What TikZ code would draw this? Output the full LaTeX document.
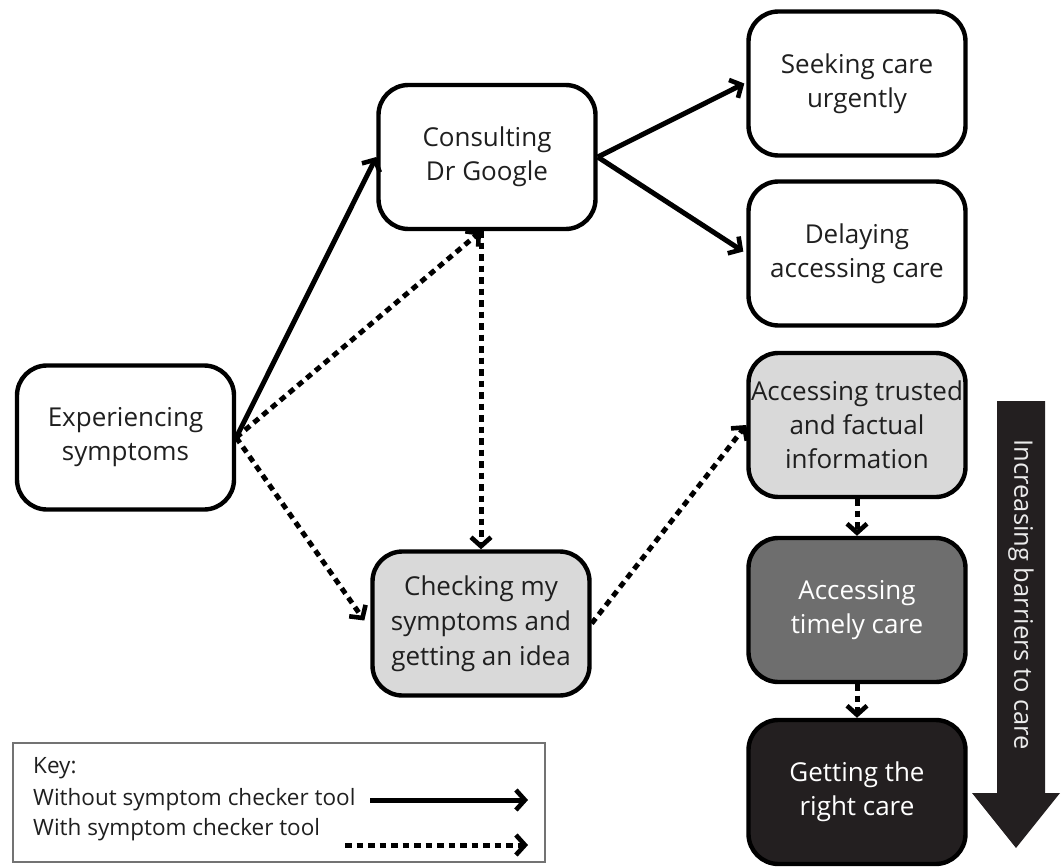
\documentclass[tikz,border=0pt]{standalone}
\usepackage{fontspec}
\setmainfont{Open Sans}
\usetikzlibrary{arrows.meta,calc}
\definecolor{lightbox}{HTML}{D9D9D9}
\definecolor{midbox}{HTML}{6E6E6E}
\definecolor{darkbox}{HTML}{231F20}
\tikzset{
  box/.style={draw=black, line width=4.4pt, rounded corners=30pt, minimum width=217pt, minimum height=144pt, align=center, inner sep=0pt, font=\fontsize{26}{34}\selectfont, text=black!88},
  conn/.style={line width=5pt, -{Straight Barb[length=9pt,width=20pt,line width=4.6pt]}},
  dotconn/.style={conn, dash pattern=on 6.5pt off 5pt},
  keytext/.style={anchor=west, inner sep=0pt, font=\fontsize{22.5}{26}\selectfont, text=black!88}
}
\begin{document}
\begin{tikzpicture}[x=1pt,y=-1pt]
\useasboundingbox (0,0) rectangle (1061,867);
% nodes
\node[box] (exp) at (125.5,437.5) {Experiencing\\symptoms};
\node[box] (goo) at (487,157) {Consulting\\Dr Google};
\node[box] (seek) at (857,83.5) {Seeking care\\urgently};
\node[box] (delay) at (857,253.5) {Delaying\\accessing care};
\node[box, fill=lightbox, font=\fontsize{26}{35}\selectfont] (check) at (481,623.5) {Checking my\\symptoms and\\getting an idea};
\node[box, fill=lightbox] (trust) at (857,425) {Accessing trusted\\and factual\\information};
\node[box, fill=midbox, text=white] (timely) at (857,610) {Accessing\\timely care};
\node[box, fill=darkbox, text=white] (right) at (857,792) {Getting the\\right care};
% connectors
\coordinate (gooS) at ($(goo.south)+(-6,0)$);
\draw[conn] (exp.east) -- (goo.west);
\draw[dotconn] (exp.east) -- (gooS);
\draw[dotconn] (check.north |- goo.south) -- (check.north);
\draw[dotconn] (exp.east) -- ($(check.west)+(-6,-3)$);
\draw[dotconn] (check.east) -- (trust.west);
\draw[conn] (goo.east) -- ($(seek.west)+(-2,0)$);
\draw[conn] (goo.east) -- ($(delay.west)+(-3,-2)$);
\draw[dotconn] (trust.south) -- (timely.north);
\draw[dotconn] (timely.south) -- (right.north);
% big arrow
\fill[darkbox] (997,401) -- (1045,401) -- (1045,793) -- (1060,793) -- (1016,848) -- (972,793) -- (997,793) -- cycle;
\node[rotate=-90, text=white!92!black, font=\fontsize{25.5}{28}\selectfont, inner sep=0pt] (barrier) at (1021,595) {Increasing barriers to care};
% key
\node[draw=black!55, line width=1.3pt, minimum width=532pt, minimum height=119pt, inner sep=0pt] (key) at (279,802.5) {};
\node[keytext] (k1) at (33,768) {Key:};
\node[keytext] (k2) at (33,800) {Without symptom checker tool};
\node[keytext] (k3) at (33,830) {With symptom checker tool};
\coordinate (a1s) at (370,800);
\coordinate (a1e) at (528,800);
\coordinate (a2s) at (345,845);
\coordinate (a2e) at (528,845);
\draw[conn] (a1s) -- (a1e);
\draw[dotconn] (a2s) -- (a2e);
\end{tikzpicture}
\end{document}
